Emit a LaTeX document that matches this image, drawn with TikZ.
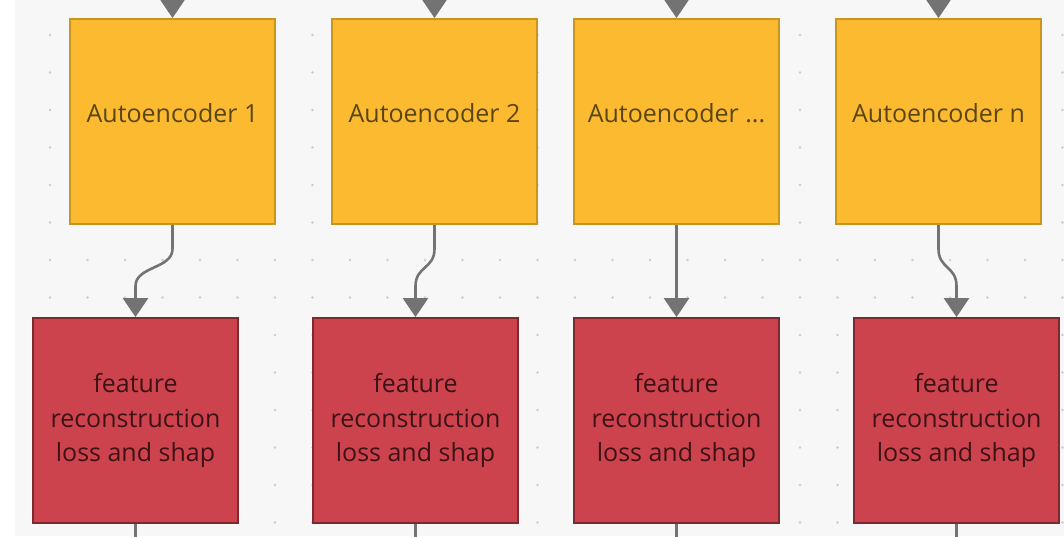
\documentclass[tikz,border=0pt]{standalone}
\usepackage{fontspec}
\setmainfont{Open Sans}
\usetikzlibrary{arrows.meta,calc}

\definecolor{canvas}{HTML}{F7F7F7}
\definecolor{griddot}{HTML}{CCCCCC}
\definecolor{aefill}{HTML}{FBBA30}
\definecolor{aeedge}{HTML}{C8951F}
\definecolor{aetext}{HTML}{5A4614}
\definecolor{lossfill}{HTML}{CC434D}
\definecolor{lossedge}{HTML}{7C2A30}
\definecolor{losstext}{HTML}{3E1216}
\definecolor{wire}{HTML}{737373}

\tikzset{
  aebox/.style={draw=aeedge, line width=1.8pt, fill=aefill, text=aetext,
    minimum width=205pt, minimum height=205pt, inner sep=0pt,
    font=\fontsize{25}{34.5}\selectfont},
  lossbox/.style={draw=lossedge, line width=1.8pt, fill=lossfill, text=losstext,
    minimum width=205pt, minimum height=205pt, inner sep=0pt, align=center,
    font=\fontsize{25}{34.5}\selectfont},
  conn/.style={draw=wire, line width=2.6pt,
    -{Triangle[width=25pt,length=19pt]}},
  plainwire/.style={draw=wire, line width=2.6pt},
}

\begin{document}
\begin{tikzpicture}[x=1pt, y=-1pt]
  \useasboundingbox (0,0) rectangle (1064,536);
  \clip (0,0) rectangle (1064,536);

  % canvas and dot grid
  \fill[white] (0,0) rectangle (1064,536);
  \fill[canvas] (15,0) rectangle (1064,536);
  \foreach \i in {0,...,27}{
    \foreach \j in {0,...,13}{
      \fill[griddot] ({50+37.5*\i},{35+37.5*\j}) circle (1.3pt);
    }
  }

  % autoencoders
  \node[aebox] (ae1) at (172.5,121.5) {\raisebox{17pt}{Autoencoder 1}};
  \node[aebox] (ae2) at (434.5,121.5) {\raisebox{17pt}{Autoencoder 2}};
  \node[aebox] (ae3) at (676.5,121.5) {\raisebox{17pt}{Autoencoder ...}};
  \node[aebox] (ae4) at (938.5,121.5) {\raisebox{17pt}{Autoencoder n}};

  % loss blocks
  \node[lossbox] (l1) at (135.5,420.5) {feature\\reconstruction\\loss and shap};
  \node[lossbox] (l2) at (415.5,420.5) {feature\\reconstruction\\loss and shap};
  \node[lossbox] (l3) at (676.5,420.5) {feature\\reconstruction\\loss and shap};
  \node[lossbox] (l4) at (956.5,420.5) {feature\\reconstruction\\loss and shap};

  % incoming wires from above
  \foreach \k in {1,...,4}{
    \coordinate (in\k) at ($(ae\k.north)+(0,-40)$);
    \draw[conn] (in\k) -- (ae\k.north);
  }

  % autoencoder -> loss
  \draw[conn] (ae1.south) -- ++(0,24)
    .. controls +(0,20) and +(0,-20) .. ($(l1.north)+(0,-31)$) -- (l1.north);
  \draw[conn] (ae2.south) -- ++(0,24)
    .. controls +(0,20) and +(0,-20) .. ($(l2.north)+(0,-31)$) -- (l2.north);
  \draw[conn] (ae3.south) -- (l3.north);
  \draw[conn] (ae4.south) -- ++(0,24)
    .. controls +(0,20) and +(0,-20) .. ($(l4.north)+(0,-31)$) -- (l4.north);

  % outgoing wires below
  \foreach \k in {1,...,4}{
    \coordinate (out\k) at ($(l\k.south)+(0,30)$);
    \draw[plainwire] (l\k.south) -- (out\k);
  }
\end{tikzpicture}
\end{document}
